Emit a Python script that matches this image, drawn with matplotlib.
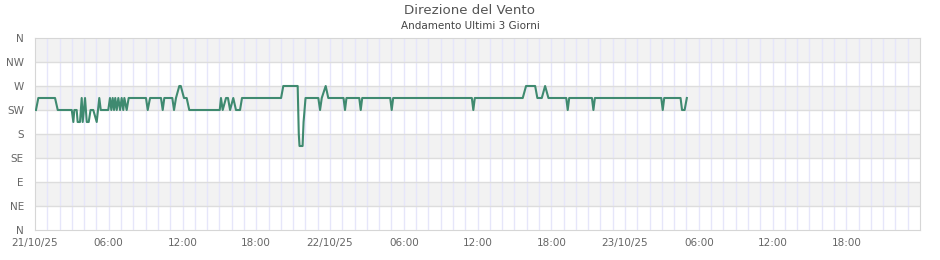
import numpy as np
import matplotlib
matplotlib.use('Agg')
import matplotlib.pyplot as plt

# wind direction readings: hours since 21/10/25 00:00 and degrees
hours = [0.08, 0.27, 1.63, 1.85, 2.99, 3.12, 3.20, 3.39, 3.47, 3.66, 3.80, 3.88, 4.07,
         4.21, 4.37, 4.52, 4.74, 5.02, 5.23, 5.35, 5.96,
         6.10, 6.21, 6.32, 6.43, 6.53, 6.65, 6.78, 6.92, 7.05, 7.18, 7.27, 7.46, 7.62,
         9.03, 9.17, 9.36, 10.25, 10.39, 10.52, 11.17, 11.31, 11.47, 11.74, 11.86,
         12.12, 12.34, 12.55, 15.03, 15.13, 15.27, 15.54, 15.70, 15.87, 16.13, 16.35,
         16.68, 16.84, 20.02, 20.20, 21.37, 21.46, 21.52, 21.77, 21.85, 22.01,
         23.05, 23.19, 23.33, 23.65, 23.86,
         25.10, 25.22, 25.34, 26.38, 26.50, 26.62, 28.90, 29.02, 29.14,
         35.54, 35.66, 35.78, 39.68, 39.95, 40.69, 40.87, 41.23, 41.50, 41.77,
         43.22, 43.34, 43.46, 45.31, 45.43, 45.55, 50.95, 51.07, 51.19,
         52.52, 52.64, 52.85, 53.03]
degrees = [225, 247.5, 247.5, 225, 225, 202.5, 225, 225, 202.5, 202.5, 247.5, 202.5, 247.5,
           202.5, 202.5, 225, 225, 202.5, 247.5, 225, 225,
           247.5, 225, 247.5, 225, 247.5, 225, 247.5, 225, 247.5, 225, 247.5, 225, 247.5,
           247.5, 225, 247.5, 247.5, 225, 247.5, 247.5, 225, 247.5, 270, 270,
           247.5, 247.5, 225, 225, 247.5, 225, 247.5, 247.5, 225, 247.5, 225,
           225, 247.5, 247.5, 270, 270, 180, 157.5, 157.5, 202.5, 247.5,
           247.5, 225, 247.5, 270, 247.5,
           247.5, 225, 247.5, 247.5, 225, 247.5, 247.5, 225, 247.5,
           247.5, 225, 247.5, 247.5, 270, 270, 247.5, 247.5, 270, 247.5,
           247.5, 225, 247.5, 247.5, 225, 247.5, 247.5, 225, 247.5,
           247.5, 225, 225, 247.5]

dir_labels = ['N', 'NE', 'E', 'SE', 'S', 'SW', 'W', 'NW', 'N']
dir_ticks = [0, 45, 90, 135, 180, 225, 270, 315, 360]
time_ticks = [0, 6, 12, 18, 24, 30, 36, 42, 48, 54, 60, 66]
time_labels = ['21/10/25', '06:00', '12:00', '18:00', '22/10/25', '06:00', '12:00', '18:00',
               '23/10/25', '06:00', '12:00', '18:00']

fig = plt.figure(figsize=(9.4, 2.6), dpi=100)
ax = fig.add_axes([35/940, 1 - 230/260, 885/940, 192/260])

# alternating bands
for lo in [45, 135, 225, 315]:
    ax.axhspan(lo, lo + 45, color='#f2f2f2', zorder=0, lw=0)

for h in range(1, 72):
    ax.axvline(h, color='#e6e6fa', lw=1, zorder=1)
for d in dir_ticks[1:-1]:
    ax.axhline(d, color='#dddddd', lw=1, zorder=1)

ax.plot(hours, degrees, color='#3f8a70', lw=1.5, zorder=3)

ax.set_xlim(0, 72)
ax.set_ylim(0, 360)
ax.set_yticks(dir_ticks)
ax.set_yticklabels(dir_labels)
ax.set_xticks(time_ticks)
ax.set_xticklabels(time_labels)
ax.tick_params(length=0, labelsize=7.5, labelcolor='#666666')
ax.tick_params(axis='y', pad=8)
ax.tick_params(axis='x', pad=6)
for s in ax.spines.values():
    s.set_color('#d6d6d6')

fig.text(0.5, 1 - 10/260, 'Direzione del Vento', ha='center', va='center', fontsize=9.6, color='#555555')
fig.text(0.5, 1 - 26/260, 'Andamento Ultimi 3 Giorni', ha='center', va='center', fontsize=7.5, color='#444444')

fig.savefig('out.png', dpi=100)
